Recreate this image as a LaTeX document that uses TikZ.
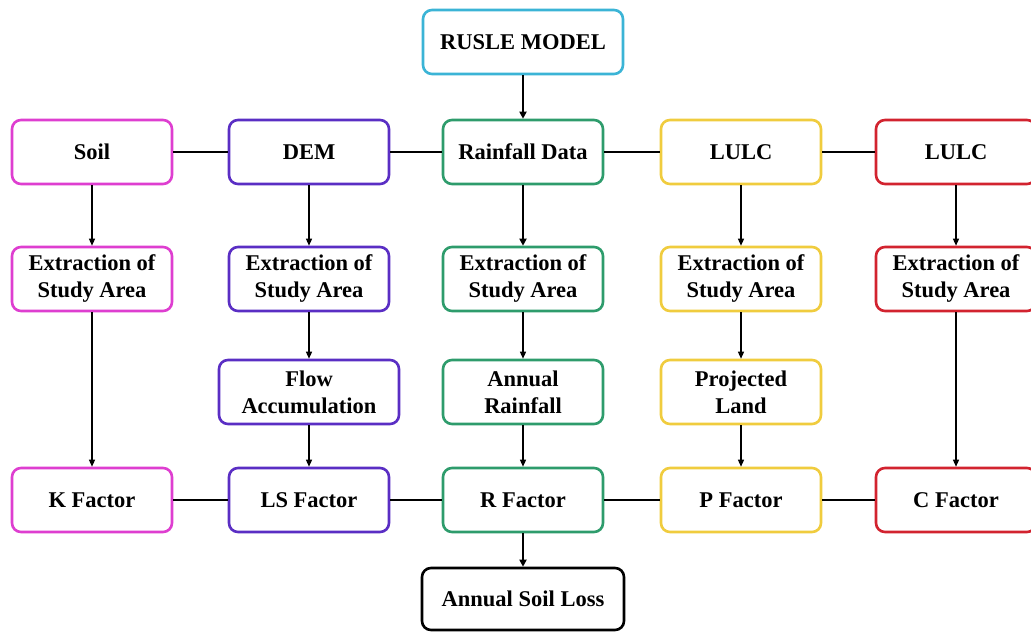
\documentclass[tikz,border=0pt]{standalone}
\usepackage{fontspec}
\setmainfont{Liberation Serif}
\usetikzlibrary{arrows.meta}
\definecolor{cmag}{HTML}{DE3ED0}
\definecolor{cpur}{HTML}{5A2EC4}
\definecolor{cgrn}{HTML}{2E9C6C}
\definecolor{cyel}{HTML}{F0CC3E}
\definecolor{cred}{HTML}{D2232F}
\definecolor{ccya}{HTML}{3BB4D6}
\begin{document}
\begin{tikzpicture}[x=1pt,y=-1pt,
  box/.style={draw, rounded corners=9pt, line width=2.6pt, minimum width=160pt, minimum height=64pt,
    align=center, inner sep=0pt, font=\bfseries\fontsize{22.5}{27}\selectfont, fill=white},
  link/.style={line width=2pt},
  flat/.style={line width=1.2pt},
  arr/.style={line width=1.3pt, -{Triangle[length=7pt,width=6pt]}},
  arrb/.style={line width=2pt, -{Triangle[length=7pt,width=7pt]}}]
\useasboundingbox (0,0) rectangle (1031,632);
\fill[white] (0,0) rectangle (1031,632);
% top
\node[box, draw=ccya, minimum width=200pt] (rusle) at (523,42) {RUSLE MODEL};
% row 1
\node[box, draw=cmag] (soil) at (92,152) {Soil};
\node[box, draw=cpur] (dem) at (309,152) {DEM};
\node[box, draw=cgrn] (rain) at (523,152) {Rainfall Data};
\node[box, draw=cyel] (lulca) at (741,152) {LULC};
\node[box, draw=cred] (lulcb) at (956,152) {LULC};
% row 2
\node[box, draw=cmag] (exa) at (92,279) {Extraction of\\Study Area};
\node[box, draw=cpur] (exb) at (309,279) {Extraction of\\Study Area};
\node[box, draw=cgrn] (exc) at (523,279) {Extraction of\\Study Area};
\node[box, draw=cyel] (exd) at (741,279) {Extraction of\\Study Area};
\node[box, draw=cred] (exe) at (956,279) {Extraction of\\Study Area};
% row 3
\node[box, draw=cpur, minimum width=180pt] (flow) at (309,392) {Flow\\Accumulation};
\node[box, draw=cgrn] (annr) at (523,392) {Annual\\Rainfall};
\node[box, draw=cyel] (proj) at (741,392) {Projected\\Land};
% row 4
\node[box, draw=cmag] (kf) at (92,500) {K Factor};
\node[box, draw=cpur] (lsf) at (309,500) {LS Factor};
\node[box, draw=cgrn] (rf) at (523,500) {R Factor};
\node[box, draw=cyel] (pf) at (741,500) {P Factor};
\node[box, draw=cred] (cf) at (956,500) {C Factor};
% bottom
\node[box, draw=black, minimum width=202pt, minimum height=62pt] (asl) at (523,599) {Annual Soil Loss};
% horizontal links
\draw[link] (soil) -- (dem);
\draw[link] (dem) -- (rain);
\draw[link] (rain) -- (lulca);
\draw[link] (lulca) -- (lulcb);
\draw[flat] (kf) -- (lsf);
\draw[flat] (lsf) -- (rf);
\draw[flat] (rf) -- (pf);
\draw[flat] (pf) -- (cf);
% vertical arrows
\draw[arrb] (rusle) -- (rain);
\draw[arr] (soil) -- (exa);
\draw[arr] (dem) -- (exb);
\draw[arrb] (rain) -- (exc);
\draw[arr] (lulca) -- (exd);
\draw[arr] (lulcb) -- (exe);
\draw[arr] (exa) -- (kf);
\draw[arr] (exb) -- (flow);
\draw[arr] (flow) -- (lsf);
\draw[arr] (exc) -- (annr);
\draw[arr] (annr) -- (rf);
\draw[arr] (exd) -- (proj);
\draw[arr] (proj) -- (pf);
\draw[arr] (exe) -- (cf);
\draw[arrb] (rf) -- (asl);
\end{tikzpicture}
\end{document}
